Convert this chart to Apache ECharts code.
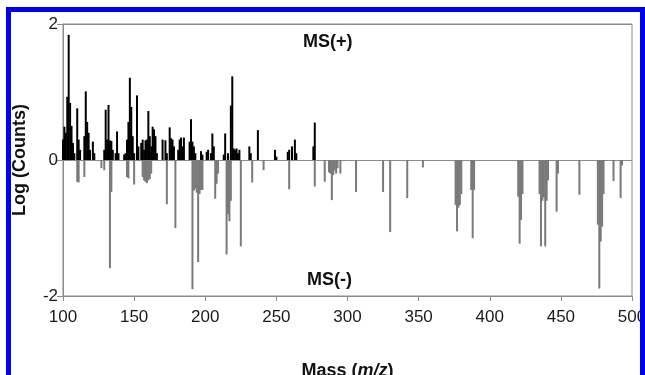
<!DOCTYPE html>
<html>
<head>
<meta charset="utf-8">
<script src="https://cdn.jsdelivr.net/npm/echarts@6/dist/echarts.min.js"></script>
<style>
html,body{margin:0;padding:0;background:#fff;overflow:hidden;width:645px;height:375px;}
#chart{position:absolute;left:0;top:0;width:645px;height:375px;}
#frame{position:absolute;left:6px;top:7px;width:639px;height:368px;box-sizing:border-box;border:5px solid #0000f0;border-bottom:none;pointer-events:none;}
</style>
</head>
<body>
<div id="chart"></div>
<div id="frame"></div>
<script>
// Positive ion mode: mass (m/z) and log(counts)
const massPos = [100,101,102,103,104,105,106,107,108,110,111,112,115,116,117,118,119,121,122,
  129,130,131,132,133,134,135,137,138,139,143,144,145,146,147,148,149,150,152,153,155,156,157,
  158,159,160,161,162,163,164,165,166,170,172,173,175,176,177,178,181,182,183,184,185,189,190,
  191,192,193,197,198,201,202,204,205,206,213,214,216,218,219,220,221,222,223,224,231,232,237,
  249,250,258,259,261,263,264,276,277];
const logPos = [0.30,0.49,0.40,0.93,1.84,0.84,0.50,0.25,0.10,0.76,0.30,0.15,0.35,1.01,0.56,0.40,0.15,0.27,0.10,
  0.15,0.74,0.30,0.81,0.29,0.28,0.15,0.10,0.42,0.10,0.08,0.10,0.30,0.56,1.21,0.78,0.35,0.10,0.95,0.20,0.25,0.30,0.15,
  0.29,0.30,0.72,0.35,0.20,0.49,0.45,0.35,0.10,0.30,0.29,0.10,0.48,0.32,0.30,0.20,0.15,0.30,0.33,0.20,0.33,0.27,0.60,
  0.27,0.20,0.10,0.13,0.08,0.12,0.15,0.10,0.39,0.20,0.08,0.39,0.10,0.80,1.23,0.17,0.15,0.17,0.10,0.15,0.20,0.10,0.44,
  0.15,0.05,0.12,0.15,0.20,0.30,0.10,0.20,0.55];
// Negative ion mode: mass (m/z) and -log(counts)
const massNeg = [110,111,115,127,129,133,134,145,146,150,156,157,158,159,160,161,162,173,179,
  191,192,193,194,195,196,197,198,207,208,209,215,216,217,218,225,233,241,259,277,284,287,288,
  289,290,291,292,293,295,306,325,330,342,353,376,377,378,379,380,387,388,389,420,421,422,423,
  435,436,437,438,439,440,441,447,448,463,476,477,478,479,480,487,492,493];
const logNeg = [-0.32,-0.33,-0.25,-0.12,-0.15,-1.59,-0.47,-0.25,-0.27,-0.36,-0.25,-0.30,-0.32,-0.34,-0.30,-0.28,-0.20,-0.65,-1.00,
  -1.90,-0.45,-0.42,-0.48,-1.50,-0.50,-0.44,-0.44,-0.57,-0.35,-0.20,-1.39,-0.80,-0.90,-0.60,-1.27,-0.33,-0.15,-0.43,-0.39,-0.32,-0.18,-0.20,
  -0.59,-0.22,-0.15,-0.20,-0.12,-0.20,-0.47,-0.47,-1.06,-0.56,-0.11,-0.66,-1.05,-0.70,-0.66,-0.50,-0.44,-1.15,-0.44,-0.54,-1.23,-0.88,-0.50,
  -0.50,-1.27,-0.60,-0.55,-1.27,-0.60,-0.30,-0.76,-0.20,-0.51,-0.95,-1.89,-1.20,-0.98,-0.50,-0.31,-0.56,-0.08];
const xTicks = {min:100, max:500, step:50};
const yTicks = {min:-2, max:2, step:2};

const FONT = 'Arial, "Liberation Sans", sans-serif';
const chart = echarts.init(document.getElementById('chart'), null, {renderer:'canvas', width:645, height:375});
chart.setOption({
  animation:false,
  backgroundColor:'#ffffff',
  grid:{left:63, right:13, top:24, bottom:79, containLabel:false, outerBoundsMode:'none',
        show:true, borderColor:'#8c8c8c', borderWidth:1, backgroundColor:'transparent'},
  xAxis:{
    type:'value', min:xTicks.min, max:xTicks.max, interval:xTicks.step,
    axisLine:{onZero:false, lineStyle:{color:'#8c8c8c', width:1}},
    axisTick:{show:true, length:5, lineStyle:{color:'#8c8c8c'}},
    splitLine:{show:false},
    axisLabel:{fontFamily:FONT, fontSize:17, color:'#1a1a1a', margin:13},
    name:'{b|Mass (}{i|m/z}{b|)}', nameLocation:'middle', nameGap:66,
    nameTextStyle:{rich:{
      b:{fontFamily:FONT, fontSize:18, fontWeight:'bold', color:'#111'},
      i:{fontFamily:FONT, fontSize:18, fontWeight:'bold', fontStyle:'italic', color:'#111'}}}
  },
  yAxis:{
    type:'value', min:yTicks.min, max:yTicks.max, interval:yTicks.step,
    axisLine:{show:true, lineStyle:{color:'#8c8c8c', width:1}},
    axisTick:{show:true, length:6, lineStyle:{color:'#8c8c8c'}},
    splitLine:{show:true, lineStyle:{color:'#8c8c8c', width:1}},
    axisLabel:{fontFamily:FONT, fontSize:17, color:'#1a1a1a', margin:5},
    name:'Log (Counts)', nameLocation:'middle', nameGap:34,
    nameTextStyle:{fontFamily:FONT, fontSize:18, fontWeight:'bold', color:'#111'}
  },
  series:[
    {type:'bar', name:'MS(+)', barWidth:2, barGap:'-100%',
     data:massPos.map((m,i)=>[m, logPos[i]]),
     itemStyle:{color:'#000000'}, emphasis:{disabled:true}},
    {type:'bar', name:'MS(-)', barWidth:2, barGap:'-100%',
     data:massNeg.map((m,i)=>[m, logNeg[i]]),
     itemStyle:{color:'#7a7a7a'}, emphasis:{disabled:true}}
  ],
  graphic:[
    {type:'text', left:303, top:33, style:{text:'MS(+)', font:'bold 18px '+FONT, fill:'#111'}},
    {type:'text', left:307, top:271, style:{text:'MS(-)', font:'bold 18px '+FONT, fill:'#111'}}
  ]
});
</script>
</body>
</html>
